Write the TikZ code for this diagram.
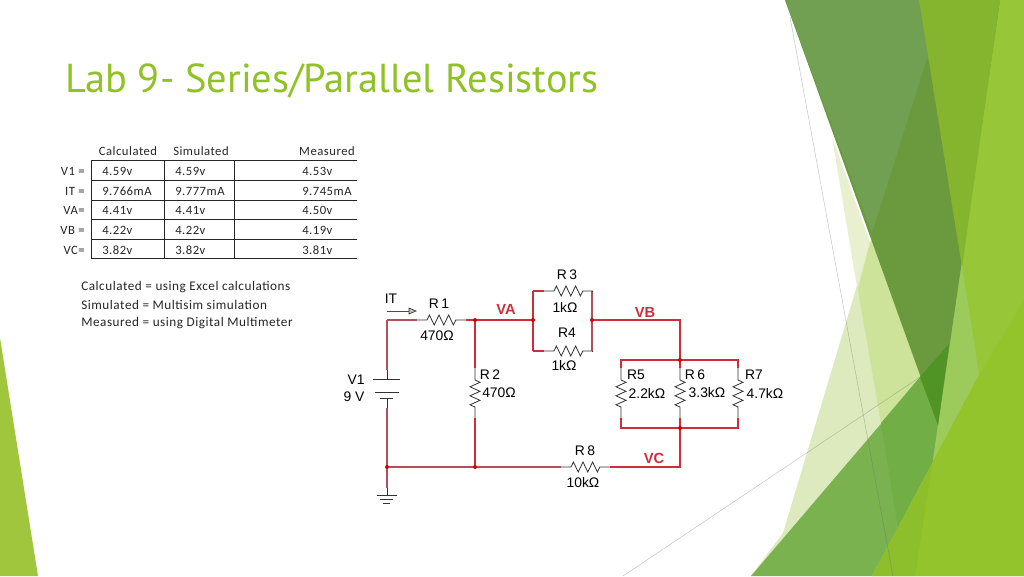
\documentclass[tikz,border=0pt]{standalone}
\usepackage{fontspec}
\setmainfont{Carlito}
\newfontfamily\titlefont{PT Sans}
\newfontfamily\tablefont[LetterSpace=4]{Carlito}
\newfontfamily\circfont{Liberation Sans}
\definecolor{wirered}{HTML}{CC2F3A}
\definecolor{wiredull}{HTML}{B2505A}
\definecolor{titlegreen}{HTML}{90C226}
\definecolor{cLeft}{HTML}{A0C63E}
\definecolor{cPaleA}{HTML}{DDEABD}
\definecolor{cPaleB}{HTML}{E8F0D0}
\definecolor{cPaleC}{HTML}{CDE39A}
\definecolor{cGreenA}{HTML}{79B24E}
\definecolor{cGreenB}{HTML}{72AE46}
\definecolor{cBand}{HTML}{6B9A3E}
\definecolor{cBandL}{HTML}{72A052}
\definecolor{cOlive}{HTML}{85B52F}
\definecolor{cDeep}{HTML}{4F9424}
\definecolor{cRight}{HTML}{97C739}
\definecolor{cPatch}{HTML}{9CCB5C}
\definecolor{cLow}{HTML}{94C42C}
\definecolor{cLowL}{HTML}{8DBE2B}
\tikzset{
  wire/.style={draw=wirered,line width=0.85pt},
  dullwire/.style={draw=wiredull,line width=0.85pt},
  lead/.style={draw=black!80,line width=0.6pt},
  jdot/.style={circle,fill=red!85!black,inner sep=0pt,minimum size=3pt},
  hdr/.style={font=\tablefont\fontsize{9.5}{11}\selectfont,text=black!85,inner sep=0pt},
  vallab/.style={hdr,anchor=west},
  rowlab/.style={hdr,anchor=east},
  leglab/.style={anchor=west,inner sep=0pt,text=black!85,font=\tablefont\fontsize{9.9}{11}\selectfont},
  clab/.style={font=\circfont\fontsize{10.4}{11}\selectfont,text=black,inner sep=0pt},
  vlab/.style={font=\circfont\bfseries\fontsize{11}{12}\selectfont,text=wirered,inner sep=0pt},
  tabrule/.style={draw=black!85,line width=0.7pt},
  thinline/.style={draw=black!60,line width=0.35pt,opacity=0.4}
}
% horizontal resistor: name, left x, y  (defines name-a, name-b)
\newcommand{\resh}[3]{%
  \coordinate (#1-a) at (#2,#3);
  \coordinate (#1-b) at ({#2+49},#3);
  \draw[lead] (#1-a) -- ++(10,0) -- ++(2.4,-5) -- ++(4.8,10) -- ++(4.8,-10) -- ++(4.8,10) -- ++(4.8,-10) -- ++(4.8,10) -- ++(2.4,-5) -- (#1-b);}
% vertical resistor: name, x, top y
\newcommand{\resv}[3]{%
  \coordinate (#1-a) at (#2,#3);
  \coordinate (#1-b) at (#2,{#3+50});
  \draw[lead] (#1-a) -- ++(0,12) -- ++(5,2.3) -- ++(-10,4.5) -- ++(10,4.5) -- ++(-10,4.5) -- ++(10,4.5) -- ++(-10,4.5) -- ++(5,2.2) -- (#1-b);}
\begin{document}
\begin{tikzpicture}[x=0.75pt,y=-0.75pt]
\useasboundingbox (0,0) rectangle (1024,576);
\fill[white] (0,0) rectangle (1024,576);
% background facets
\fill[cLeft] (0,338) -- (38,576) -- (0,576) -- cycle;
\fill[cPaleA] (870,242) -- (783,533) -- (751,576) -- (948,345) -- (888,290) -- cycle;
\fill[cPaleB] (832,137) -- (857,287) -- (870,242) -- cycle;
\fill[cPaleC] (858,290) -- (881,423) -- (950,345) -- (880,230) -- (870,242) -- cycle;
\fill[cRight] (990,0) -- (1024,0) -- (1024,576) -- (915,576) -- (925,465) -- (950,267) -- cycle;
\fill[cPatch] (955,265) -- (962,265) -- (979,375) -- (932,463) -- (925,463) -- cycle;
\fill[cGreenA] (949,344) -- (751,576) -- (872,576) -- (932,465) -- (938,423) -- cycle;
\fill[cGreenB] (881,423) -- (898,528) -- (932,465) -- (938,423) -- (920,377) -- cycle;
\fill[cBand] (785,0) -- (1000,0) -- (938,425) -- cycle;
\fill[cBandL] (785,0) -- (919,0) -- (928,55) -- (872,233) -- cycle;
\fill[cOlive] (919,0) -- (1000,0) -- (962,267) -- cycle;
\fill[cDeep] (920,377) -- (949,344) -- (938,425) -- cycle;
\fill[cLow] (1024,300) -- (979,375) -- (872,576) -- (1024,576) -- cycle;
\fill[cLowL] (932,465) -- (872,576) -- (915,576) -- cycle;
\draw[thinline] (790,17) -- (893,576);
\draw[thinline] (623,576) -- (920,377);
% title
\node[anchor=base west,inner sep=0pt,text=titlegreen,font=\titlefont\fontsize{30.3}{34}\selectfont] (title) at (65,92) {Lab 9- Series/Parallel Resistors};
% table rules
\foreach \yy in {160,180,200,219,239,258}
  \draw[tabrule] (91,\yy) -- (357,\yy);
\foreach \xx in {91,164,234}
  \draw[tabrule] (\xx,160) -- (\xx,258);
% table text
\node[hdr] (hcalc) at (128,151) {Calculated};
\node[hdr] (hsim) at (201,151) {Simulated};
\node[hdr] (hmeas) at (327,151) {Measured};
\node[rowlab] (r1) at (85,171) {V1 =};
\node[rowlab] (r2) at (85,191) {IT =};
\node[rowlab] (r3) at (85,210) {VA=};
\node[rowlab] (r4) at (85,230) {VB =};
\node[rowlab] (r5) at (85,250) {VC=};
\node[vallab] (c11) at (102,171) {4.59v};
\node[vallab] (c12) at (175,171) {4.59v};
\node[vallab] (c13) at (302,171) {4.53v};
\node[vallab] (c21) at (102,191) {9.766mA};
\node[vallab] (c22) at (175,191) {9.777mA};
\node[vallab] (c23) at (302,191) {9.745mA};
\node[vallab] (c31) at (102,210) {4.41v};
\node[vallab] (c32) at (175,210) {4.41v};
\node[vallab] (c33) at (302,210) {4.50v};
\node[vallab] (c41) at (102,230) {4.22v};
\node[vallab] (c42) at (175,230) {4.22v};
\node[vallab] (c43) at (302,230) {4.19v};
\node[vallab] (c51) at (102,250) {3.82v};
\node[vallab] (c52) at (175,250) {3.82v};
\node[vallab] (c53) at (302,250) {3.81v};
\node[leglab] (leg1) at (81,287) {Calculated = using Excel calculations};
\node[leglab] (leg2) at (81,305) {Simulated = Multisim simulation};
\node[leglab] (leg3) at (81,323) {Measured = using Digital Multimeter};
% junctions and corners
\coordinate (tl) at (387,320);
\coordinate (bl) at (387,467);
\coordinate (va) at (475,320);
\coordinate (gb) at (475,467);
\coordinate (pl) at (533,320);
\coordinate (pr) at (592,320);
\coordinate (r3l) at (533,291);
\coordinate (r4l) at (533,351);
\coordinate (r3r) at (592,291);
\coordinate (r4r) at (592,351);
\coordinate (vbc) at (680,320);
\coordinate (ptop) at (680,360);
\coordinate (pbot) at (680,428);
\coordinate (vcc) at (680,467);
\coordinate (t5) at (621,360);
\coordinate (b5) at (621,428);
\coordinate (t7) at (738,360);
\coordinate (b7) at (738,428);
\coordinate (batT) at (387,370);
\coordinate (batB) at (387,408);
\coordinate (gndT) at (387,488);
% resistors
\resh{ra}{417}{320}
\resh{rc}{544}{291}
\resh{rd}{544}{351}
\resh{rh}{561}{467}
\resv{rb}{475}{368}
\resv{re}{621}{368}
\resv{rf}{680}{368}
\resv{rg}{738}{368}
% wires
\draw[dullwire] (tl) -- (ra-a);
\draw[dullwire] (tl) -- (batT);
\draw[dullwire] (batB) -- (bl) -- (gndT);
\draw[wire] (ra-b) -- (pl);
\draw[wire] (va) -- (rb-a);
\draw[wire] (rb-b) -- (gb);
\draw[dullwire] (bl) -- (gb);
\draw[dullwire] (gb) -- (rh-a);
\draw[wire] (rh-b) -- (vcc) -- (rf-b);
\draw[wire] (rf-a) -- (vbc) -- (pr);
\draw[wire] (r3l) -- (r4l);
\draw[wire] (r3l) -- (rc-a);
\draw[wire] (r4l) -- (rd-a);
\draw[dullwire] (r3r) -- (r4r);
\draw[lead] (rc-b) -- (r3r);
\draw[lead] (rd-b) -- (r4r);
\draw[wire] (re-a) -- (t5) -- (t7) -- (rg-a);
\draw[wire] (re-b) -- (b5) -- (b7) -- (rg-b);
% battery
\draw[lead] (batT) -- (387,379);
\draw[lead] (373,379) -- (400,379);
\draw[lead] (375,392) -- (399,392);
\draw[lead] (380,398) -- (393,398);
\draw[lead] (387,398) -- (batB);
% ground
\draw[lead] (gndT) -- (387,495);
\draw[lead] (377,495) -- (397,495);
\draw[lead] (380,499) -- (393,499);
\draw[lead] (383,503) -- (390,503);
% dots
\foreach \jj in {va,gb,bl,pl,pr,ptop,pbot}
  \node[jdot] at (\jj) {};
% current arrow
\coordinate (ita) at (387,311);
\coordinate (itb) at (409,311);
\draw[draw=black!70,line width=0.6pt] (ita) -- (itb);
\draw[draw=black!80,line width=0.5pt,fill=black!25] (409,308) -- (416,311) -- (409,314) -- cycle;
% labels
\node[clab] (lit) at (391,299) {IT};
\node[clab] (lr1) at (439,304) {R\,1};
\node[clab] (v1a) at (437,336) {470Ω};
\node[clab] (lr2) at (490,375) {R\,2};
\node[clab] (v2a) at (499,393) {470Ω};
\node[clab] (lr3) at (567,275) {R\,3};
\node[clab] (v3a) at (565,307) {1kΩ};
\node[clab] (lr4) at (567,333) {R4};
\node[clab] (v4a) at (564,365) {1kΩ};
\node[clab] (lr5) at (636,375) {R5};
\node[clab] (v5a) at (647,393) {2.2kΩ};
\node[clab] (lr6) at (695,375) {R\,6};
\node[clab] (v6a) at (707,393) {3.3kΩ};
\node[clab] (lr7) at (754,375) {R7};
\node[clab] (v7a) at (765,393) {4.7kΩ};
\node[clab] (lr8) at (585,451) {R\,8};
\node[clab] (v8a) at (583,483) {10kΩ};
\node[clab] (lv1) at (356,380) {V1};
\node[clab] (lv9) at (354,397) {9 V};
\node[vlab] (lva) at (506,309) {VA};
\node[vlab] (lvb) at (645,312) {VB};
\node[vlab] (lvc) at (654,458) {VC};
\end{tikzpicture}
\end{document}
